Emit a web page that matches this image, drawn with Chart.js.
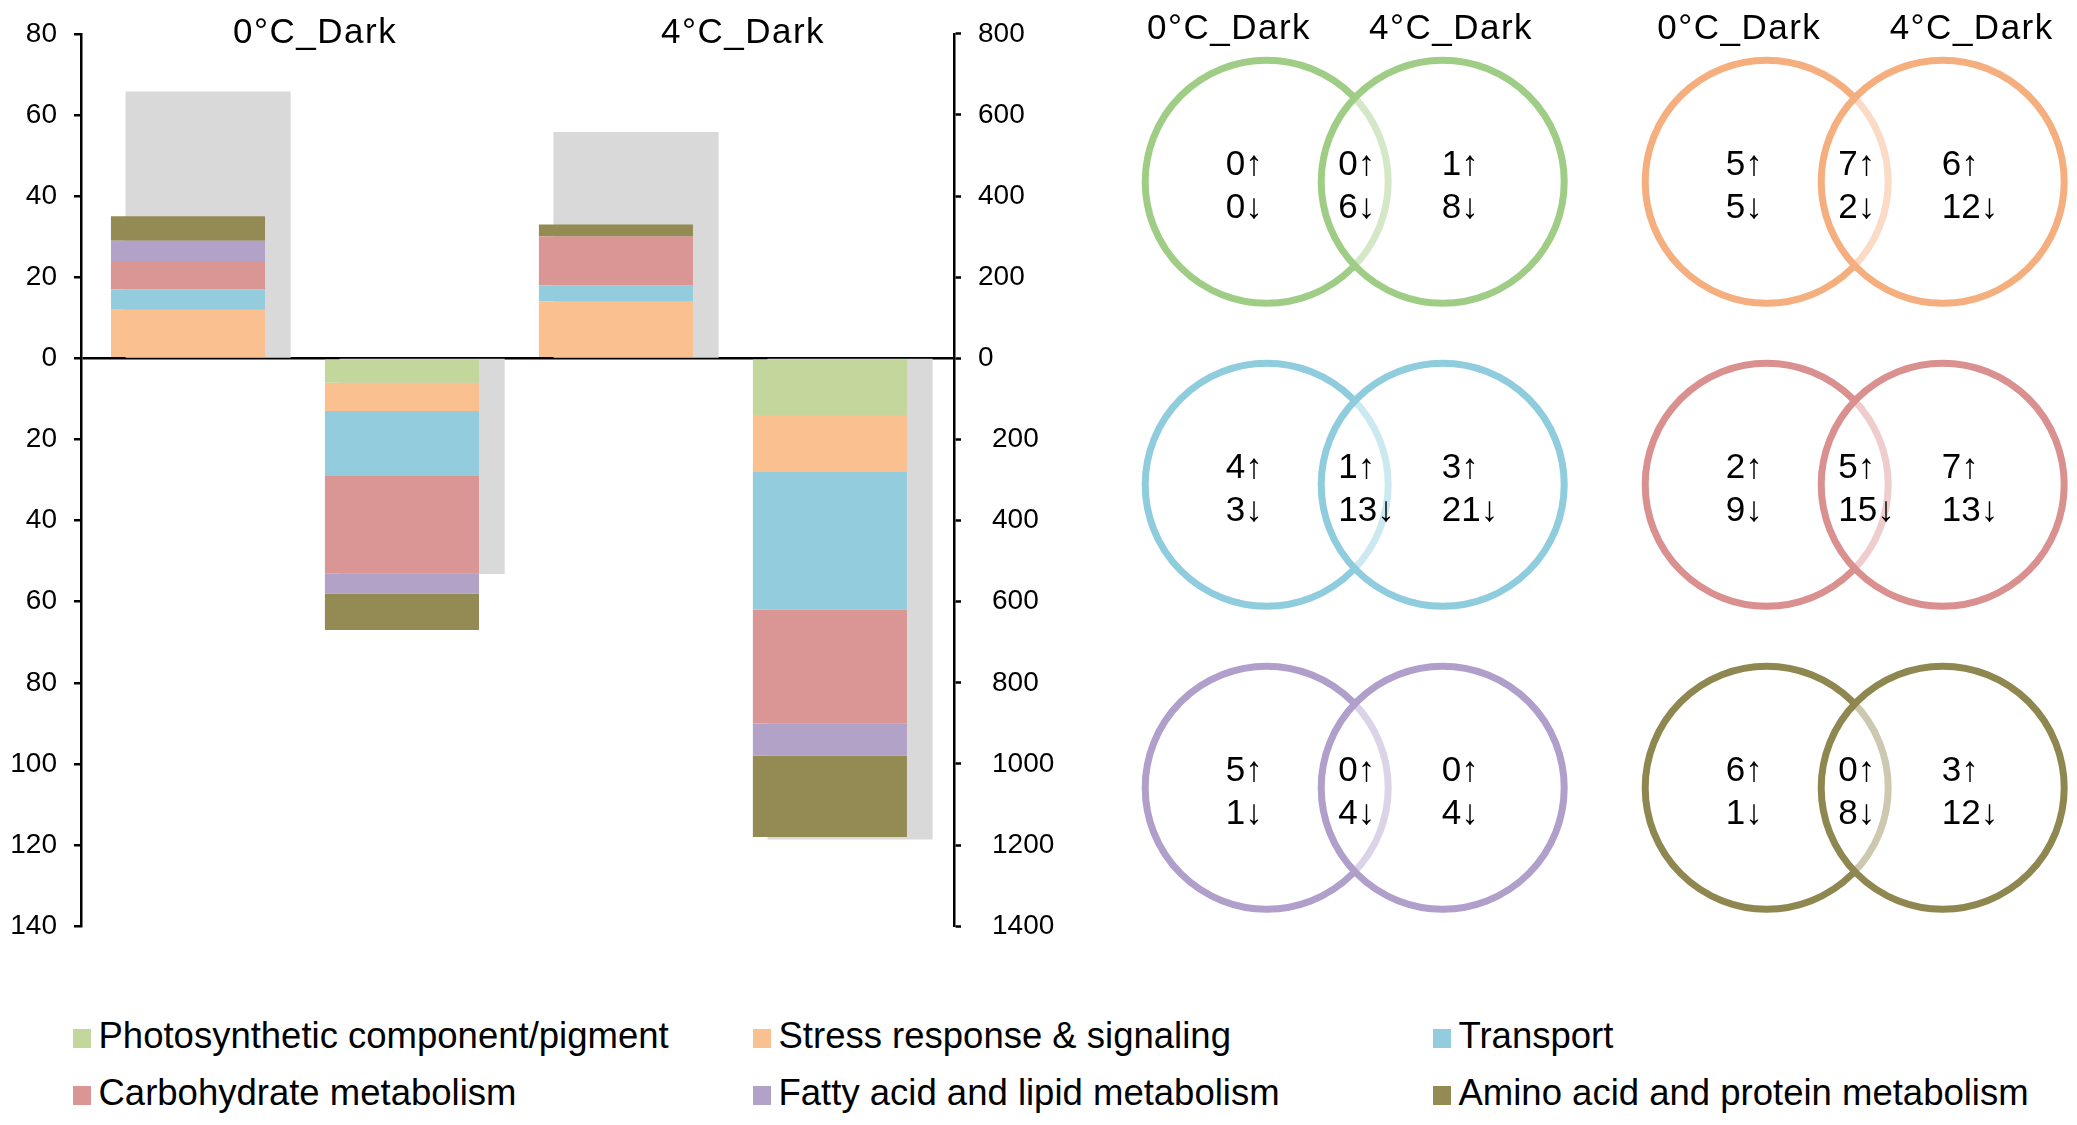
<!DOCTYPE html>
<html>
<head>
<meta charset="utf-8">
<script src="https://cdn.jsdelivr.net/npm/chart.js@4.4.1/dist/chart.umd.min.js"></script>
<style>
body{margin:0;background:#fff;width:2077px;height:1125px;overflow:hidden;position:relative;font-family:"Liberation Sans",Arial,sans-serif;}
#barBox{position:absolute;left:0;top:0;width:1100px;height:960px;}
#vennBox{position:absolute;left:1100px;top:0;width:977px;height:960px;}
#legend{position:absolute;left:72.5px;top:1008px;display:grid;grid-template-columns:680px 680px 680px;font-size:36.5px;line-height:56.7px;color:#000;}
.item{white-space:nowrap;}
.sw{display:inline-block;width:18px;height:19px;margin-right:8px;}
</style>
</head>
<body>
<div id="barBox"><canvas id="barChart"></canvas></div>
<div id="vennBox"><canvas id="vennChart"></canvas></div>
<div id="legend"></div>
<script>
// data
const categories=["Photosynthetic component/pigment","Stress response & signaling","Transport","Carbohydrate metabolism","Fatty acid and lipid metabolism","Amino acid and protein metabolism"];
const groups=["0°C_Dark","4°C_Dark"];

// stacked bars (left axis), counts per category
const up0C=[0,12,5,7,5,6];
const down0C=[6,7,16,24,5,9];
const up4C=[0,14,4,12,0,3];
const down4C=[14,14,34,28,8,20];

// grey bars (right axis): up 0C, down 0C, up 4C, down 4C
const totalDEGs=[658,532,558,1186];

// venn counts per category
const only0Up=[0,5,4,2,5,6];
const only0Down=[0,5,3,9,1,1];
const bothUp=[0,7,1,5,0,0];
const bothDown=[6,2,13,15,4,8];
const only4Up=[1,6,3,7,0,3];
const only4Down=[8,12,21,13,4,12];

const leftTicks=[80,60,40,20,0,-20,-40,-60,-80,-100,-120,-140];
const rightTicks=[800,600,400,200,0,-200,-400,-600,-800,-1000,-1200,-1400];

const barColors=["#C3D69B","#FAC090","#93CDDD","#D99694","#B3A2C7","#948A54"];
const ringColors=["#A0CD86","#F5AF7F","#8FCCDD","#D9908F","#B09ECB","#8F8750"];
const FONT='"Liberation Sans", Arial, sans-serif';

const barPos=[0,1,2,3];
function barSeries(i){
const vals=[up0C[i],-down0C[i],up4C[i],-down4C[i]];
return vals.map((v,k)=>({x:barPos[k],y:v}));
}

const datasets=categories.map((c,i)=>({
label:c,
data:barSeries(i),
backgroundColor:barColors[i],
xAxisID:"x",
yAxisID:"y",
grouped:false,
categoryPercentage:1,
barPercentage:0.72,
borderWidth:0,
order:0
}));
datasets.push({
label:"total",
data:totalDEGs.map((v,k)=>({x:barPos[k],y:k%2?-v:v})),
backgroundColor:"#D9D9D9",
xAxisID:"x2",
yAxisID:"y2",
grouped:false,
categoryPercentage:1,
barPercentage:0.772,
borderWidth:0,
order:1
});

const groupLabels={
id:"groupLabels",
afterDraw(chart){
const ctx=chart.ctx;
const sx=chart.scales.x2;
ctx.save();
ctx.font="35px "+FONT;
ctx.letterSpacing="1.5px";
ctx.fillStyle="#000";
ctx.textAlign="center";
ctx.textBaseline="alphabetic";
groups.forEach((g,k)=>{
ctx.fillText(g,sx.getPixelForValue(2*k+0.5),42.7);
});
ctx.restore();
}
};

const tickFont={family:FONT,size:28};
const posTicks=s=>{s.ticks=barPos.map(v=>({value:v}));};

const barChart=new Chart(
document.getElementById("barChart"),
{
type:"bar",
data:{datasets:datasets},
options:{
responsive:true,
maintainAspectRatio:false,
animation:false,
events:[],
layout:{padding:{top:24,bottom:19,left:0,right:0}},
plugins:{legend:{display:false},tooltip:{enabled:false}},
scales:{
x:{type:"linear",display:false,offset:false,min:-0.5,max:3.58,afterBuildTicks:posTicks},
x2:{type:"linear",display:false,offset:false,min:-0.594,max:3.486,afterBuildTicks:posTicks},
y:{
position:"left",
stacked:true,
min:-140,max:80,
z:1,
afterFit:s=>{s.width=81;},
afterBuildTicks:s=>{s.ticks=leftTicks.map(v=>({value:v}));},
border:{display:true,color:"#000",width:2.5},
grid:{
color:c=>c.tick&&c.tick.value===0?"#000":"rgba(0,0,0,0)",
lineWidth:2.5,
drawTicks:true,
tickLength:7,
tickColor:"#000",
tickWidth:2.5
},
ticks:{color:"#000",font:tickFont,padding:17,callback:v=>Math.abs(v)}
},
y2:{
position:"right",
min:-1400,max:800,
afterFit:s=>{s.width=146;},
afterBuildTicks:s=>{s.ticks=rightTicks.map(v=>({value:v}));},
border:{display:true,color:"#000",width:2.5},
grid:{drawOnChartArea:false,drawTicks:true,tickLength:7,tickColor:"#000",tickWidth:2.5},
ticks:{color:"#000",font:tickFont,padding:17,callback:v=>v<0?"\u2002"+(-v):String(v)}
}
}
},
plugins:[groupLabels]
}
);

// html legend built from the chart's own legend items
const legendItems=Chart.defaults.plugins.legend.labels.generateLabels(barChart)
.filter(it=>it.datasetIndex<categories.length);
const legendBox=document.getElementById("legend");
legendItems.forEach(it=>{
const d=document.createElement("div");
d.className="item";
const sw=document.createElement("span");
sw.className="sw";
sw.style.background=it.fillStyle;
d.appendChild(sw);
d.appendChild(document.createTextNode(it.text));
legendBox.appendChild(d);
});

// venn panels: column = i%2, row = floor(i/2)
const vennR=0.243;
const vennDx=0.352;
const panelCol=categories.map((c,i)=>i%2);
const panelRow=categories.map((c,i)=>Math.floor(i/2));

function ringRadius(ctx){
const s=ctx.chart.scales.x;
return s.getPixelForValue(vennR)-s.getPixelForValue(0);
}

const vennText={
id:"vennText",
afterDatasetsDraw(chart){
const ctx=chart.ctx;
const sx=chart.scales.x, sy=chart.scales.y;
ctx.save();
ctx.fillStyle="#000";
ctx.textBaseline="alphabetic";
ctx.font="35px "+FONT;
ctx.textAlign="left";
categories.forEach((c,i)=>{
const cx=sx.getPixelForValue(panelCol[i]);
const cy=sy.getPixelForValue(panelRow[i]);
const cols=[
[cx-41,only0Up[i],only0Down[i]],
[cx+71.5,bothUp[i],bothDown[i]],
[cx+175,only4Up[i],only4Down[i]]
];
cols.forEach(([x,u,d])=>{
ctx.fillText(u+"\u2191",x,cy-7);
ctx.fillText(d+"\u2193",x,cy+36);
});
});
ctx.font="35px "+FONT;
ctx.letterSpacing="1.5px";
ctx.textAlign="center";
const headOff=[[-37.7,184.3],[-27.4,205]];
[0,1].forEach(col=>{
const cx=sx.getPixelForValue(col);
groups.forEach((g,k)=>{
ctx.fillText(g,cx+headOff[col][k],38.8);
});
});
ctx.restore();
}
};

const vennChart=new Chart(
document.getElementById("vennChart"),
{
type:"scatter",
data:{
datasets:[
{
label:"0°C_Dark",
data:categories.map((c,i)=>({x:panelCol[i],y:panelRow[i]})),
pointRadius:ringRadius,
pointBorderWidth:7,
pointBorderColor:c=>ringColors[c.dataIndex],
pointBackgroundColor:"rgba(255,255,255,0)",
order:1,
clip:false
},
{
label:"4°C_Dark",
data:categories.map((c,i)=>({x:panelCol[i]+vennDx,y:panelRow[i]})),
pointRadius:ringRadius,
pointBorderWidth:7,
pointBorderColor:c=>ringColors[c.dataIndex],
pointBackgroundColor:"rgba(255,255,255,0.55)",
order:0,
clip:false
}
]
},
options:{
responsive:true,
maintainAspectRatio:false,
animation:false,
events:[],
layout:{padding:0},
plugins:{legend:{display:false},tooltip:{enabled:false}},
scales:{
x:{type:"linear",display:false,min:-0.3334,max:1.6206},
y:{type:"linear",display:false,reverse:true,min:-0.5997,max:2.5686}
}
},
plugins:[vennText]
}
);
</script>
</body>
</html>
